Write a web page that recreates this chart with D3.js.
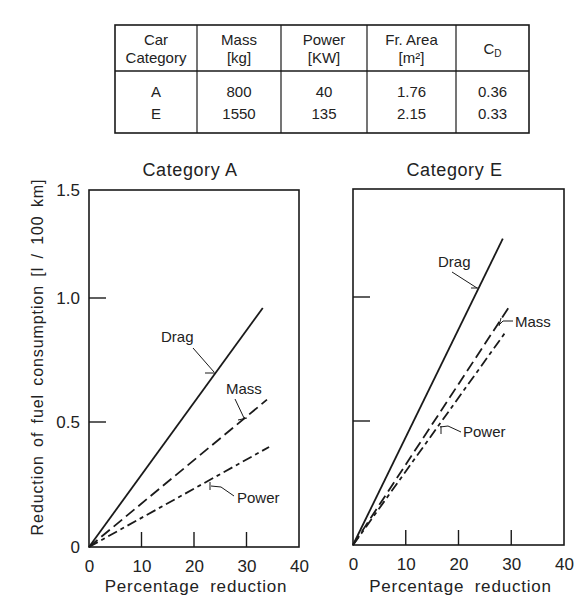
<!DOCTYPE html>
<html><head><meta charset="utf-8">
<script src="https://cdn.jsdelivr.net/npm/d3@7"></script>
<style>
body{margin:0;background:#fff;}
svg text{font-family:"Liberation Sans",Arial,sans-serif;fill:#222;}
</style></head>
<body><svg id="c" width="578" height="614"></svg>
<script>
// ---- data ----
const tableHeader1 = ["Car", "Mass", "Power", "Fr. Area", "C"];
const tableHeader2 = ["Category", "[kg]", "[KW]", "[m²]", ""];
const tableRowA = ["A", "800", "40", "1.76", "0.36"];
const tableRowE = ["E", "1550", "135", "2.15", "0.33"];

const xTicks = [0, 10, 20, 30, 40];
const yTicks = [0, 0.5, 1.0, 1.5];
const yTickLabels = ["0", "0.5", "1.0", "1.5"];

const seriesNames = ["Drag", "Mass", "Power"];
// Category A: [percentage reduction, fuel reduction]
const dragA  = [[0, 0], [33.1, 0.96]];
const massA  = [[0, 0], [33.9, 0.59]];
const powerA = [[0, 0], [34.3, 0.40]];
// Category E
const dragE  = [[0, 0], [28.4, 1.27]];
const massE  = [[0, 0], [29.6, 0.96]];
const powerE = [[0, 0], [28.8, 0.855]];

const svg = d3.select("#c");
const ink = "#1a1a1a";

// ---- table ----
const colEdges = [115, 197, 281, 367, 456, 529];
const tTop = 25, tMid = 71, tBot = 133;
const tg = svg.append("g");
tg.append("rect").attr("x", colEdges[0]).attr("y", tTop)
  .attr("width", colEdges[5] - colEdges[0]).attr("height", tBot - tTop)
  .attr("fill", "none").attr("stroke", ink).attr("stroke-width", 1.6);
tg.append("line").attr("x1", colEdges[0]).attr("x2", colEdges[5]).attr("y1", tMid).attr("y2", tMid)
  .attr("stroke", ink).attr("stroke-width", 1.3);
colEdges.slice(1, 5).forEach(x => tg.append("line").attr("x1", x).attr("x2", x)
  .attr("y1", tTop).attr("y2", tBot).attr("stroke", ink).attr("stroke-width", 1.2));
const colC = colEdges.slice(0, 5).map((x, i) => (x + colEdges[i + 1]) / 2);
tableHeader1.forEach((t, i) => {
  if (i === 4) {
    const tx = tg.append("text").attr("x", colC[i]).attr("y", 54).attr("text-anchor", "middle")
      .attr("font-size", 15).attr("fill", "#333");
    tx.append("tspan").text(t);
    tx.append("tspan").attr("font-size", 10).attr("dy", 3).text("D");
  } else {
    tg.append("text").attr("x", colC[i]).attr("y", 45).attr("text-anchor", "middle")
      .attr("font-size", 15).attr("fill", "#333").text(t);
  }
});
tableHeader2.forEach((t, i) => {
  if (!t) return;
  tg.append("text").attr("x", colC[i]).attr("y", 63).attr("text-anchor", "middle")
    .attr("font-size", 15).attr("fill", "#333").text(t);
});
[[tableRowA, 97], [tableRowE, 119]].forEach(([row, y]) => {
  row.forEach((t, i) => tg.append("text").attr("x", colC[i]).attr("y", y)
    .attr("text-anchor", "middle").attr("font-size", 15).attr("fill", "#333").text(t));
});

// ---- panels ----
function panel(cfg) {
  const x = d3.scaleLinear().domain([0, 40]).range([cfg.x0, cfg.x1]);
  const y = d3.scaleLinear().domain(yTicks).range(cfg.yr);
  const g = svg.append("g");
  // frame
  g.append("rect").attr("x", cfg.x0).attr("y", cfg.yr[3])
    .attr("width", cfg.x1 - cfg.x0).attr("height", cfg.yr[0] - cfg.yr[3])
    .attr("fill", "none").attr("stroke", ink).attr("stroke-width", 1.6);
  // bottom axis (ticks inward)
  const xa = g.append("g").attr("transform", `translate(0,${cfg.yr[0]})`)
    .call(d3.axisBottom(x).tickValues(xTicks).tickSize(0).tickPadding(13));
  xa.select(".domain").remove();
  xa.selectAll("text").attr("font-size", 17).attr("font-family", "Liberation Sans, Arial, sans-serif").attr("fill", "#222");
  [10, 20, 30].forEach(v => g.append("line").attr("x1", x(v)).attr("x2", x(v))
    .attr("y1", cfg.yr[0]).attr("y2", cfg.yr[0] - 15).attr("stroke", ink).attr("stroke-width", 1.4));
  // left ticks
  [0.5, 1.0].forEach(v => g.append("line").attr("x1", cfg.x0).attr("x2", cfg.x0 + 17)
    .attr("y1", y(v)).attr("y2", y(v)).attr("stroke", ink).attr("stroke-width", 1.4));
  if (cfg.yLabels) {
    const ya = g.append("g").attr("transform", `translate(${cfg.x0},0)`)
      .call(d3.axisLeft(y).tickValues(yTicks).tickSize(0).tickPadding(9)
        .tickFormat((d, i) => yTickLabels[i]));
    ya.select(".domain").remove();
    ya.selectAll("text").attr("font-size", 17).attr("font-family", "Liberation Sans, Arial, sans-serif").attr("fill", "#222");
  }
  // title & x label
  g.append("text").attr("x", (cfg.x0 + cfg.x1) / 2 - 4).attr("y", 176).attr("text-anchor", "middle")
    .attr("font-size", 18).attr("letter-spacing", 0.6).text(cfg.title);
  g.append("text").attr("x", (cfg.x0 + cfg.x1) / 2 + 2).attr("y", 592).attr("text-anchor", "middle")
    .attr("font-size", 17).attr("letter-spacing", 0.8).attr("word-spacing", 5).text("Percentage reduction");
  // series
  const line = d3.line().x(d => x(d[0])).y(d => y(d[1]));
  const dashes = ["", "11,5", "10,4,4,4"];
  cfg.series.forEach((s, i) => g.append("path").datum(s).attr("d", line)
    .attr("fill", "none").attr("stroke", ink).attr("stroke-width", 1.8)
    .attr("stroke-dasharray", dashes[i] || null));
  // annotations
  cfg.notes.forEach(n => {
    g.append("text").attr("x", n.tx).attr("y", n.ty).attr("font-size", 15).text(n.name);
    g.append("path").attr("d", d3.line()(n.leader)).attr("fill", "none")
      .attr("stroke", ink).attr("stroke-width", 1);
    g.append("path").attr("d", d3.line()(n.tick)).attr("fill", "none")
      .attr("stroke", ink).attr("stroke-width", 1);
  });
}

panel({
  x0: 89, x1: 299, yr: [547, 422, 298, 190], yLabels: true, title: "Category A",
  series: [dragA, massA, powerA],
  notes: [
    { name: seriesNames[0], tx: 161, ty: 342, leader: [[193, 348], [214, 372]], tick: [[205, 373], [215, 373]] },
    { name: seriesNames[1], tx: 226, ty: 394, leader: [[235, 399], [244, 418]], tick: [[238, 420], [247, 418]] },
    { name: seriesNames[2], tx: 237, ty: 503, leader: [[234, 496], [221, 487], [211, 486]], tick: [[210, 482], [210, 490]] }
  ]
});
panel({
  x0: 353, x1: 564, yr: [545, 421, 297, 189], yLabels: false, title: "Category E",
  series: [dragE, massE, powerE],
  notes: [
    { name: seriesNames[0], tx: 438, ty: 267, leader: [[452, 272], [477, 288]], tick: [[471, 288], [478, 288]] },
    { name: seriesNames[1], tx: 515, ty: 327, leader: [[513, 321], [503, 321], [499, 325]], tick: [[501, 318], [499, 326]] },
    { name: seriesNames[2], tx: 463, ty: 437, leader: [[461, 432], [448, 426], [440, 427]], tick: [[441, 426], [441, 434]] }
  ]
});

// y axis label
svg.append("text").attr("transform", "translate(43,357) rotate(-90)").attr("text-anchor", "middle")
  .attr("font-size", 16).attr("letter-spacing", 0.9).attr("word-spacing", 3)
  .text("Reduction of fuel consumption  [l / 100 km]");
</script></body></html>
